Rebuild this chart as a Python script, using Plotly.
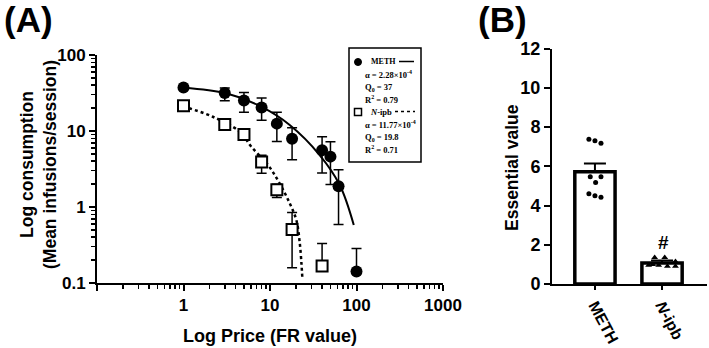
import plotly.graph_objects as go

# ---------------- Data ----------------
# Panel A: demand curves
meth_price = [1, 3, 5, 8, 12, 18, 40, 50, 62, 100]
meth_cons = [37.4, 31.6, 25.2, 20.4, 12.5, 7.9, 5.6, 4.6, 1.88, 0.142]
meth_err_plus = [0, 5.1, 7.0, 6.7, 5.1, 3.1, 2.8, 2.6, 1.22, 0.143]
meth_err_minus = [0, 6.6, 7.6, 6.6, 5.2, 3.7, 2.8, 2.63, 1.29, 0]

nipb_price = [1, 3, 5, 8, 12, 18, 40]
nipb_cons = [21.5, 12.2, 9.0, 3.9, 1.69, 0.506, 0.167]
nipb_err_plus = [0, 0.5, 0.5, 0.9, 0.3, 0.34, 0.164]
nipb_err_minus = [0, 0.5, 0.5, 1.13, 0.36, 0.347, 0]

# fitted curves
meth_fit_x = [1, 3.1, 7.9, 16.9, 37.5, 64, 93]
meth_fit_y = [37, 31.3, 20.9, 12.0, 4.83, 1.95, 0.58]
nipb_fit_x = [1, 1.17, 2.18, 4.46, 6.08, 9.49, 12.9, 16.9, 20.2, 22.1, 23.1, 23.6]
nipb_fit_y = [21, 19.9, 15.4, 9.8, 6.2, 3.57, 2.05, 1.12, 0.67, 0.333, 0.18, 0.121]

x_tick_vals = [0.1, 1, 10, 100, 1000]
x_tick_text = [" ", "1", "10", "100", "1000"]
y_tick_vals = [0.1, 1, 10, 100]
y_tick_text = ["0.1", "1", "10", "100"]

# Panel B: essential value
groups = ["METH", "<i>N</i>-ipb"]
ev_mean = [5.72, 1.07]
ev_sem = [0.42, 0.13]
meth_ev_points = [7.38, 7.31, 7.18, 5.47, 5.47, 5.17, 4.6, 4.5, 4.42]
nipb_ev_points = [1.35, 1.35, 1.15, 0.95, 0.95, 0.9, 0.9, 1.0]

W, H = 709, 348
FONT = "Liberation Sans"
SERIF = "Liberation Serif"


def px(x):
    return x / W


def py(y):
    return 1 - y / H


minor_log = [m * 10 ** e for e in (-1, 0, 1, 2) for m in range(2, 10)]

fig = go.Figure()

# ---- Panel A ----
fig.add_trace(go.Scatter(
    x=meth_fit_x, y=meth_fit_y, mode="lines",
    line=dict(color="black", width=2, shape="spline", smoothing=1.0),
    xaxis="x", yaxis="y", showlegend=False, hoverinfo="skip"))
fig.add_trace(go.Scatter(
    x=nipb_fit_x, y=nipb_fit_y, mode="lines",
    line=dict(color="black", width=2.5, dash="dot", shape="spline", smoothing=1.0),
    xaxis="x", yaxis="y", showlegend=False, hoverinfo="skip"))
fig.add_trace(go.Scatter(
    x=meth_price, y=meth_cons, mode="markers",
    marker=dict(symbol="circle", size=12, color="black"),
    error_y=dict(type="data", symmetric=False, array=meth_err_plus,
                 arrayminus=meth_err_minus, color="black", thickness=1.5, width=5),
    xaxis="x", yaxis="y", showlegend=False))
fig.add_trace(go.Scatter(
    x=nipb_price, y=nipb_cons, mode="markers",
    marker=dict(symbol="square", size=11, color="white",
                line=dict(color="black", width=2)),
    error_y=dict(type="data", symmetric=False, array=nipb_err_plus,
                 arrayminus=nipb_err_minus, color="black", thickness=1.5, width=5),
    xaxis="x", yaxis="y", showlegend=False))

# ---- Panel B ----
fig.add_trace(go.Bar(
    x=[0, 1], y=ev_mean, width=0.6,
    marker=dict(color="white", line=dict(color="black", width=3.5)),
    error_y=dict(type="data", symmetric=False, array=ev_sem, arrayminus=[0, 0],
                 color="black", thickness=2, width=11),
    xaxis="x2", yaxis="y2", showlegend=False))

jit9 = [-0.09, 0, 0.09, -0.07, 0.09, 0.01, -0.09, 0, 0.09]
fig.add_trace(go.Scatter(
    x=[0 + j for j in jit9], y=meth_ev_points, mode="markers",
    marker=dict(symbol="circle", size=5, color="black"),
    xaxis="x2", yaxis="y2", showlegend=False, cliponaxis=False))
jit8 = [-0.11, 0.04, 0.2, -0.2, -0.05, 0.08, 0.2, -0.14]
fig.add_trace(go.Scatter(
    x=[1 + j for j in jit8], y=nipb_ev_points, mode="markers",
    marker=dict(symbol="triangle-up", size=6, color="black"),
    xaxis="x2", yaxis="y2", showlegend=False, cliponaxis=False))

axis_common = dict(showline=True, linecolor="black", linewidth=2, ticks="outside",
                   ticklen=6, tickwidth=2, tickcolor="black", showgrid=False,
                   zeroline=False, automargin=False,
                   tickfont=dict(family=FONT, size=17, color="black", weight="bold"))

fig.update_layout(
    template="none",
    width=W, height=H, autosize=False,
    margin=dict(l=0, r=0, t=0, b=0, pad=0),
    paper_bgcolor="white", plot_bgcolor="white",
    font=dict(family=FONT, color="black"),
    xaxis=dict(domain=[px(97), px(443)], type="log", range=[-1, 3], anchor="y",
               tickmode="array", tickvals=x_tick_vals, ticktext=x_tick_text,
               minor=dict(tickmode="array", tickvals=minor_log, ticks="outside",
                          ticklen=4, tickwidth=1.5, tickcolor="black", showgrid=False),
               **axis_common),
    yaxis=dict(domain=[py(283), py(55)], type="log", range=[-1, 2], anchor="x",
               tickmode="array", tickvals=y_tick_vals, ticktext=y_tick_text,
               minor=dict(tickmode="array", tickvals=minor_log, ticks="outside",
                          ticklen=4, tickwidth=1.5, tickcolor="black", showgrid=False),
               **axis_common),
    xaxis2=dict(domain=[px(552), px(707)], range=[-0.64, 1.67], anchor="y2",
                tickmode="array", tickvals=[0, 1], ticktext=groups, tickangle=62,
                **{**axis_common, "ticklen": 4,
                   "tickfont": dict(family=FONT, size=16, color="black", weight="bold")}),
    yaxis2=dict(domain=[py(284), py(48.7)], range=[0, 12], anchor="x2",
                tickmode="linear", tick0=0, dtick=2,
                **{**axis_common,
                   "tickfont": dict(family=FONT, size=18, color="black", weight="bold")}),
)

shapes = []
# legend box
shapes.append(dict(type="rect", xref="paper", yref="paper",
                   x0=px(349), x1=px(421), y0=py(162), y1=py(48),
                   line=dict(color="black", width=1.5), fillcolor="white"))
shapes.append(dict(type="circle", xref="paper", yref="paper",
                   x0=px(354.5), x1=px(361.5), y0=py(65.5), y1=py(58.5),
                   line=dict(color="black", width=1), fillcolor="black"))
shapes.append(dict(type="rect", xref="paper", yref="paper",
                   x0=px(354.5), x1=px(361.5), y0=py(115.5), y1=py(108.5),
                   line=dict(color="black", width=1.5), fillcolor="white"))
shapes.append(dict(type="line", xref="paper", yref="paper",
                   x0=px(399), x1=px(414), y0=py(61.5), y1=py(61.5),
                   line=dict(color="black", width=1.5)))
shapes.append(dict(type="line", xref="paper", yref="paper",
                   x0=px(395), x1=px(415), y0=py(111.5), y1=py(111.5),
                   line=dict(color="black", width=1.5, dash="dot")))
fig.update_layout(shapes=shapes)

ann = []


def add_text(text, x, y, size, family=FONT, xanchor="center", angle=0, bold=True):
    ann.append(dict(text=text, x=px(x), y=py(y), xref="paper", yref="paper",
                    showarrow=False, xanchor=xanchor, yanchor="middle",
                    textangle=angle,
                    font=dict(family=family, size=size, color="black",
                              weight="bold" if bold else "normal")))


legend_lines = [
    ("METH", 369, 62, 8),
    ("α = 2.28×10<sup>-4</sup>", 363, 74.5, 8.5),
    ("Q<sub>0</sub> = 37", 363, 87, 8.5),
    ("R<sup>2</sup> = 0.79", 363, 99.5, 8.5),
    ("<i>N</i>-ipb", 368, 112, 8.5),
    ("α = 11.77×10<sup>-4</sup>", 363, 124.5, 8.5),
    ("Q<sub>0</sub> = 19.8", 363, 137, 8.5),
    ("R<sup>2</sup> = 0.71", 363, 149.5, 8.5),
]
for t, x, y, s in legend_lines:
    add_text(t, x, y, s, family=SERIF, xanchor="left")

add_text("Log Price (FR value)", 270, 336, 18)
add_text("Log consumption<br>(Mean infusions/session)", 38, 165, 17.5, angle=-90)
add_text("Essential value", 512, 168, 17.5, angle=-90)
add_text("#", 663, 242, 19)
add_text("(A)", 28, 19, 35)
add_text("(B)", 502, 19, 35)
fig.update_layout(annotations=ann)

fig.write_html(
    "out.html",
    config={"displayModeBar": False, "staticPlot": True},
    post_script="document.body.style.margin='0';document.body.style.overflow='hidden';",
)
